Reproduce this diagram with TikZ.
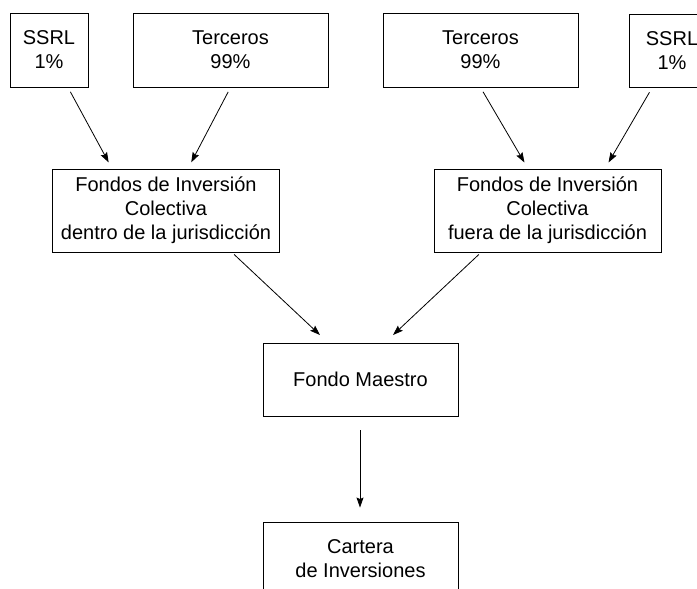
\documentclass[tikz,border=0pt]{standalone}
\usepackage{fontspec}
\setmainfont{Liberation Sans}
\usetikzlibrary{arrows.meta,positioning}

\begin{document}
\begin{tikzpicture}[x=1pt,y=-1pt,
	caja/.style={draw,line width=0.9pt,inner sep=0pt,align=center,font=\fontsize{20}{24}\selectfont},
	flecha/.style={-{Stealth[length=10pt,width=7pt,inset=1.5pt]},line width=0.8pt,shorten <=5pt,shorten >=7pt}]
	\clip (0,0) rectangle (697,589);
	\node[caja,minimum width=78pt,minimum height=74pt](ssrlA) at (49,50){SSRL\\1\%};
	\node[caja,minimum width=195pt,minimum height=74pt](terA) at (230.5,50){Terceros\\99\%};
	\node[caja,minimum width=195pt,minimum height=74pt](terB) at (480.5,50){Terceros\\99\%};
	\node[caja,minimum width=86pt,minimum height=73pt](ssrlB) at (672,51){SSRL\\1\%};
	\node[caja,minimum width=227pt,minimum height=83pt](fondA) at (166,210.5){Fondos de Inversión\\Colectiva\\dentro de la jurisdicción};
	\node[caja,minimum width=227pt,minimum height=83pt](fondB) at (547.5,210.5){Fondos de Inversión\\Colectiva\\fuera de la jurisdicción};
	\node[caja,minimum width=195pt,minimum height=73pt](maestro) at (360.5,379.5){Fondo Maestro};
	\node[caja,minimum width=195pt,minimum height=73pt](cartera) at (360.5,558.5){Cartera\\de Inversiones};

	\draw[flecha] ([xshift=19pt]ssrlA.south) -- ([xshift=-54pt]fondA.north);
	\draw[flecha] ([xshift=0pt]terA.south) -- ([xshift=22pt]fondA.north);
	\draw[flecha] ([xshift=0pt]terB.south) -- ([xshift=-19.5pt]fondB.north);
	\draw[flecha] ([xshift=-20pt]ssrlB.south) -- ([xshift=57.5pt]fondB.north);
	\draw[flecha,shorten <=3pt,shorten >=11pt] ([xshift=66pt]fondA.south) -- ([xshift=-32.5pt]maestro.north);
	\draw[flecha,shorten <=3pt,shorten >=11pt] ([xshift=-66.5pt]fondB.south) -- ([xshift=24.5pt]maestro.north);
	\draw[flecha,shorten <=14pt,shorten >=14pt] ([xshift=-0.5pt]maestro.south) -- ([xshift=-0.5pt]cartera.north);
\end{tikzpicture}
\end{document}
